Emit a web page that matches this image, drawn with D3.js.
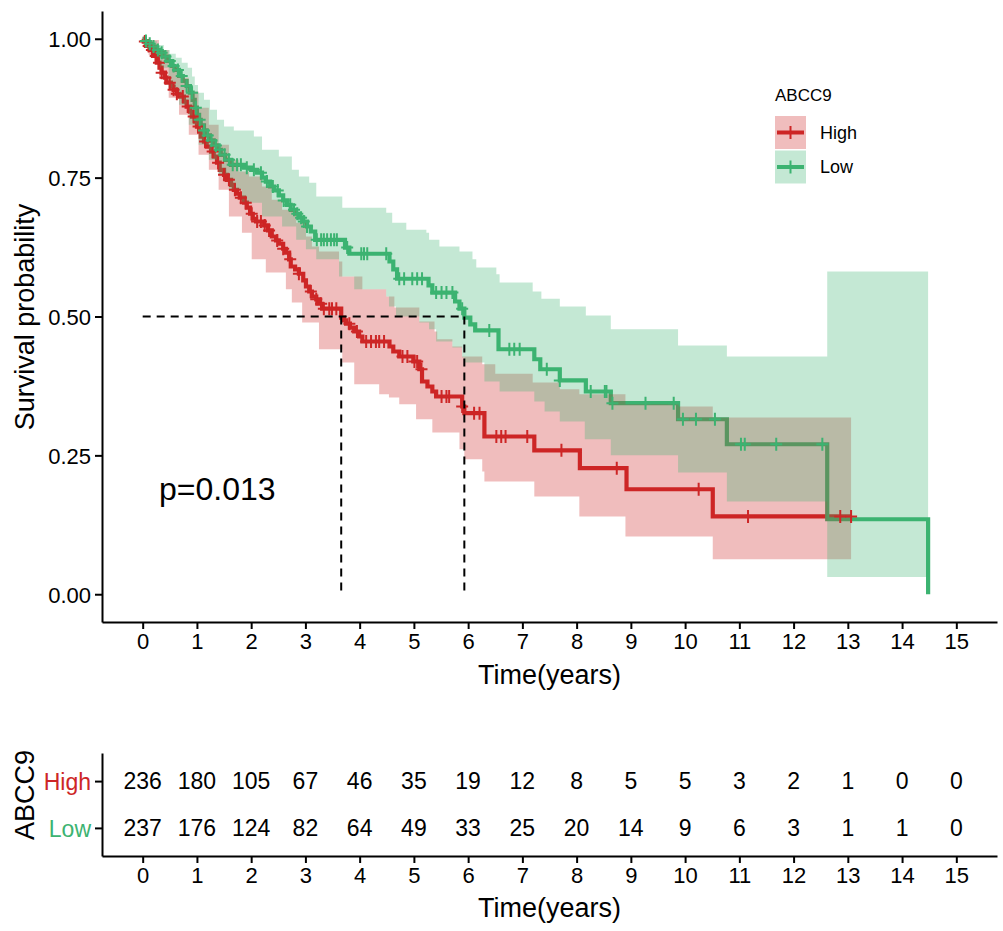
<!DOCTYPE html>
<html><head><meta charset="utf-8">
<script src="https://cdn.jsdelivr.net/npm/d3@7"></script>
<style>
body{margin:0;background:#fff}
svg text{font-family:"Liberation Sans",Arial,sans-serif}
</style>
</head><body>
<svg id="c" width="1003" height="931"></svg>
<script>
// ---------------- data ----------------
const groups = ["High", "Low"];
const legendTitle = "ABCC9";
const pValueText = "p=0.013";
const xTicks = [0,1,2,3,4,5,6,7,8,9,10,11,12,13,14,15];
const yTicks = [0, 0.25, 0.5, 0.75, 1.0];
const medians = [3.66, 5.93];
const endHigh = 13.06;
const endLow = 14.48;

// Kaplan-Meier steps [time, survival]
const highSurv = [[0,1.000],[0.02,0.995],[0.07,0.987],[0.13,0.980],[0.19,0.969],[0.26,0.957],[0.31,0.948],[0.35,0.939],[0.41,0.930],[0.44,0.921],[0.52,0.914],[0.57,0.908],[0.63,0.901],[0.68,0.896],[0.76,0.887],[0.81,0.878],[0.87,0.869],[0.91,0.860],[0.96,0.851],[1.00,0.842],[1.04,0.833],[1.07,0.824],[1.13,0.815],[1.18,0.806],[1.26,0.797],[1.31,0.788],[1.37,0.777],[1.42,0.764],[1.50,0.755],[1.55,0.746],[1.63,0.737],[1.68,0.728],[1.74,0.721],[1.79,0.714],[1.87,0.705],[1.92,0.696],[1.98,0.685],[2.03,0.676],[2.09,0.671],[2.24,0.664],[2.31,0.655],[2.38,0.644],[2.46,0.637],[2.51,0.631],[2.59,0.622],[2.64,0.615],[2.70,0.603],[2.73,0.590],[2.81,0.585],[2.88,0.577],[2.96,0.565],[3.01,0.554],[3.07,0.545],[3.12,0.536],[3.20,0.531],[3.25,0.523],[3.31,0.514],[3.66,0.498],[3.71,0.493],[3.75,0.487],[3.82,0.480],[3.90,0.473],[3.99,0.464],[4.05,0.455],[4.55,0.446],[4.62,0.437],[4.73,0.428],[4.99,0.419],[5.10,0.405],[5.15,0.383],[5.25,0.374],[5.34,0.365],[5.41,0.356],[5.89,0.338],[5.93,0.326],[6.30,0.284],[7.22,0.259],[8.06,0.227],[8.92,0.189],[10.51,0.140]];
const lowSurv = [[0,1.000],[0.04,0.996],[0.09,0.991],[0.17,0.986],[0.24,0.980],[0.31,0.975],[0.39,0.968],[0.46,0.960],[0.54,0.951],[0.59,0.944],[0.67,0.933],[0.74,0.924],[0.81,0.915],[0.87,0.903],[0.92,0.890],[0.96,0.876],[1.00,0.863],[1.04,0.854],[1.07,0.844],[1.13,0.835],[1.18,0.826],[1.24,0.817],[1.31,0.808],[1.37,0.800],[1.44,0.791],[1.52,0.782],[1.63,0.773],[1.87,0.768],[2.00,0.764],[2.11,0.759],[2.20,0.750],[2.27,0.743],[2.35,0.734],[2.42,0.727],[2.51,0.718],[2.59,0.709],[2.66,0.701],[2.73,0.692],[2.81,0.685],[2.88,0.678],[2.96,0.671],[3.03,0.662],[3.10,0.653],[3.18,0.638],[3.73,0.624],[3.81,0.613],[4.55,0.599],[4.62,0.585],[4.69,0.568],[5.27,0.556],[5.34,0.543],[5.76,0.527],[5.84,0.514],[5.93,0.498],[6.04,0.486],[6.13,0.475],[6.56,0.441],[7.22,0.423],[7.33,0.405],[7.69,0.385],[8.17,0.365],[8.63,0.344],[9.87,0.315],[10.77,0.270],[12.62,0.135],[14.48,0]];

// confidence band steps [time, value]
const highUpper = [[0,1.000],[0.11,0.998],[0.30,0.980],[0.48,0.953],[0.67,0.930],[0.85,0.905],[1.03,0.876],[1.22,0.845],[1.40,0.809],[1.59,0.782],[1.77,0.761],[1.96,0.752],[2.20,0.734],[2.38,0.710],[2.57,0.692],[2.83,0.669],[3.01,0.644],[3.12,0.626],[3.25,0.617],[3.62,0.599],[3.68,0.572],[4.05,0.549],[4.49,0.536],[4.64,0.516],[5.10,0.491],[5.38,0.473],[5.43,0.459],[5.71,0.446],[5.89,0.428],[6.26,0.414],[6.50,0.397],[7.19,0.381],[7.69,0.369],[8.05,0.360],[8.90,0.342],[9.88,0.338],[10.51,0.318]];
const highLower = [[0,1.000],[0.11,0.971],[0.30,0.930],[0.48,0.894],[0.67,0.863],[0.85,0.827],[1.03,0.791],[1.22,0.764],[1.40,0.728],[1.59,0.680],[1.83,0.651],[2.01,0.603],[2.27,0.579],[2.64,0.549],[2.75,0.525],[2.94,0.489],[3.25,0.441],[3.68,0.417],[3.90,0.378],[4.36,0.360],[4.54,0.354],[4.73,0.342],[5.04,0.315],[5.34,0.291],[5.84,0.261],[5.93,0.243],[6.26,0.221],[6.30,0.203],[7.22,0.176],[8.05,0.140],[8.90,0.104],[10.51,0.063]];
const lowUpper = [[0,1.000],[0.11,0.996],[0.26,0.989],[0.39,0.980],[0.50,0.973],[0.61,0.966],[0.72,0.957],[0.83,0.948],[0.91,0.932],[0.96,0.917],[1.02,0.903],[1.13,0.890],[1.24,0.872],[1.37,0.854],[1.50,0.842],[1.68,0.835],[2.05,0.824],[2.20,0.800],[2.51,0.788],[2.75,0.764],[2.88,0.752],[3.07,0.741],[3.20,0.716],[3.68,0.696],[4.49,0.687],[4.60,0.669],[4.86,0.656],[5.23,0.651],[5.28,0.638],[5.47,0.626],[5.84,0.617],[6.08,0.603],[6.15,0.588],[6.52,0.576],[6.58,0.561],[7.19,0.545],[7.35,0.532],[7.69,0.518],[8.17,0.502],[8.63,0.477],[9.87,0.448],[10.77,0.428],[12.62,0.581]];
const lowLower = [[0,1.000],[0.11,0.980],[0.30,0.948],[0.48,0.912],[0.67,0.881],[0.85,0.845],[1.03,0.809],[1.22,0.782],[1.40,0.755],[1.59,0.728],[1.83,0.705],[2.20,0.680],[2.57,0.662],[2.83,0.638],[3.01,0.621],[3.20,0.603],[3.62,0.572],[3.90,0.549],[4.49,0.536],[4.54,0.518],[4.67,0.500],[5.10,0.489],[5.28,0.477],[5.41,0.455],[5.71,0.444],[5.89,0.426],[5.93,0.417],[6.30,0.383],[6.58,0.365],[7.22,0.347],[7.41,0.329],[7.69,0.311],[8.15,0.279],[8.63,0.250],[9.87,0.219],[10.77,0.167],[12.62,0.031]];

// censoring times
const highCensor = [0.04,0.11,0.17,0.24,0.30,0.35,0.42,0.50,0.57,0.63,0.74,0.83,0.94,1.03,1.15,1.29,1.39,1.50,1.59,1.70,1.81,1.90,2.01,2.11,2.18,2.25,2.33,2.48,2.59,2.72,2.88,3.10,3.20,3.29,3.34,3.44,3.49,3.57,3.81,3.95,4.12,4.21,4.30,4.36,4.45,4.79,4.88,5.01,5.06,5.14,5.51,5.60,5.65,5.89,6.11,6.21,6.52,6.61,6.69,7.09,7.72,8.74,10.25,11.16,12.86,13.06];
const lowCensor = [0.06,0.13,0.20,0.28,0.35,0.42,0.50,0.57,0.65,0.72,0.81,0.91,0.98,1.05,1.13,1.20,1.27,1.35,1.42,1.51,1.59,1.66,1.74,1.81,1.92,2.05,2.18,2.29,2.40,2.49,2.60,2.72,2.79,2.85,2.92,2.97,3.03,3.21,3.29,3.34,3.40,3.47,3.53,3.58,3.77,4.03,4.08,4.14,4.49,4.73,4.82,4.97,5.06,5.15,5.41,5.51,5.60,5.71,5.89,6.39,6.76,6.85,6.95,7.45,7.69,8.26,8.52,8.55,8.66,9.27,9.79,9.96,10.20,10.55,11.03,11.10,11.68,12.53];

// number at risk
const riskTimes = [0,1,2,3,4,5,6,7,8,9,10,11,12,13,14,15];
const highRisk = [236,180,105,67,46,35,19,12,8,5,5,3,2,1,0,0];
const lowRisk = [237,176,124,82,64,49,33,25,20,14,9,6,3,1,1,0];

// ---------------- drawing ----------------
const colors = {High: "#CD2626", Low: "#3CB371"};
const svg = d3.select("#c");
const font = '"Liberation Sans",Arial,sans-serif';

const x = d3.scaleLinear().domain([-0.75, 15.75]).range([102, 997]);
const y = d3.scaleLinear().domain([-0.05, 1.05]).range([622, 11]);

function stepAt(arr, t) {
  let v = arr[0][1];
  for (const [tt, vv] of arr) { if (tt <= t + 1e-9) v = vv; else break; }
  return v;
}

const series = [
  {name: "High", surv: highSurv, up: highUpper, lo: highLower, cens: highCensor, end: endHigh},
  {name: "Low", surv: lowSurv, up: lowUpper, lo: lowLower, cens: lowCensor, end: endLow}
];

const plot = svg.append("g");

// step lines
const line = d3.line().x(d => x(d[0])).y(d => y(d[1])).curve(d3.curveStepAfter);
series.forEach(s => {
  const pts = s.surv.concat([[s.end, s.surv[s.surv.length - 1][1]]]);
  plot.append("path").attr("d", line(pts)).attr("fill", "none")
    .attr("stroke", colors[s.name]).attr("stroke-width", 4.2);
});

// confidence ribbons
const area = d3.area().x(d => x(d.t)).y0(d => y(d.lo)).y1(d => y(d.hi)).curve(d3.curveStepAfter);
series.forEach(s => {
  const times = Array.from(new Set(s.up.map(d => d[0]).concat(s.lo.map(d => d[0])))).sort((a, b) => a - b);
  const pts = times.map(t => ({t: t, lo: stepAt(s.lo, t), hi: stepAt(s.up, t)}));
  const last = pts[pts.length - 1];
  pts.push({t: s.end, lo: last.lo, hi: last.hi});
  plot.append("path").attr("d", area(pts)).attr("fill", colors[s.name]).attr("fill-opacity", 0.3);
});

// censor marks
series.forEach(s => {
  plot.selectAll(null).data(s.cens).enter().append("path")
    .attr("transform", t => `translate(${x(t)},${y(stepAt(s.surv, t))})`)
    .attr("d", "M-6,0H6M0,-6.5V6.5")
    .attr("stroke", colors[s.name]).attr("stroke-width", 2).attr("fill", "none");
});

// median lines
const dash = "8,6";
plot.append("line").attr("x1", x(0)).attr("x2", x(d3.max(medians))).attr("y1", y(0.5)).attr("y2", y(0.5))
  .attr("stroke", "#000").attr("stroke-width", 2).attr("stroke-dasharray", dash);
medians.forEach(m => {
  plot.append("line").attr("x1", x(m)).attr("x2", x(m)).attr("y1", y(0.5)).attr("y2", y(0))
    .attr("stroke", "#000").attr("stroke-width", 2).attr("stroke-dasharray", dash);
});

// p value
svg.append("text").attr("x", 159).attr("y", 500).attr("font-size", 32).style("fill", "#000").text(pValueText);

// axes (main)
function styleAxis(g, fs) {
  g.select(".domain").attr("stroke", "#000").attr("stroke-width", 2);
  g.selectAll(".tick line").attr("stroke", "#000").attr("stroke-width", 2);
  g.selectAll(".tick text").attr("font-size", fs).attr("font-family", font).style("fill", "#000");
}
const xAxisG = svg.append("g").attr("transform", "translate(0,622)")
  .call(d3.axisBottom(x).tickValues(xTicks).tickSize(7).tickSizeOuter(0).tickPadding(4).tickFormat(d3.format("d")));
styleAxis(xAxisG, 22);
const yAxisG = svg.append("g").attr("transform", "translate(102,0)")
  .call(d3.axisLeft(y).tickValues(yTicks).tickSize(7).tickSizeOuter(0).tickPadding(4).tickFormat(d3.format(".2f")));
styleAxis(yAxisG, 22);
yAxisG.selectAll(".tick text").attr("dy", "0.36em");

svg.append("text").attr("x", 549.5).attr("y", 684).attr("text-anchor", "middle").attr("font-size", 27).style("fill", "#000").text("Time(years)");
svg.append("text").attr("transform", "translate(34,317) rotate(-90)").attr("text-anchor", "middle").attr("font-size", 27).style("fill", "#000").text("Survival probability");

// legend
const leg = svg.append("g");
leg.append("text").attr("x", 775).attr("y", 101).attr("font-size", 17).style("fill", "#000").text(legendTitle);
groups.forEach((gname, i) => {
  const y0 = 116 + i * 34.5;
  leg.append("rect").attr("x", 775).attr("y", y0).attr("width", 31).attr("height", 33)
    .attr("fill", colors[gname]).attr("fill-opacity", 0.3);
  leg.append("line").attr("x1", 777).attr("x2", 804).attr("y1", y0 + 16.5).attr("y2", y0 + 16.5)
    .attr("stroke", colors[gname]).attr("stroke-width", 4);
  leg.append("path").attr("transform", `translate(790.5,${y0 + 16.5})`).attr("d", "M-6,0H6M0,-6.5V6.5")
    .attr("stroke", colors[gname]).attr("stroke-width", 2);
  leg.append("text").attr("x", 820).attr("y", y0 + 16.5).attr("dy", "0.36em").attr("font-size", 18).style("fill", "#000").text(gname);
});

// ---------------- risk table ----------------
const yr = d3.scalePoint().domain(groups).range([753, 856]).padding(0.6);
const riskG = svg.append("g");
[["High", highRisk], ["Low", lowRisk]].forEach(([gname, vals]) => {
  riskG.selectAll(null).data(riskTimes).enter().append("text")
    .attr("x", t => x(t)).attr("y", yr(gname)).attr("dy", "0.36em")
    .attr("text-anchor", "middle").attr("font-size", 23).style("fill", "#000")
    .text((t, i) => vals[i]);
});
const rxAxis = svg.append("g").attr("transform", "translate(0,856)")
  .call(d3.axisBottom(x).tickValues(xTicks).tickSize(7).tickSizeOuter(0).tickPadding(4).tickFormat(d3.format("d")));
styleAxis(rxAxis, 22);
const ryAxis = svg.append("g").attr("transform", "translate(102,0)")
  .call(d3.axisLeft(yr).tickSize(7).tickSizeOuter(0).tickPadding(4));
styleAxis(ryAxis, 23);
ryAxis.selectAll(".tick text").style("fill", d => colors[d]).attr("dy", "0.36em");
svg.append("text").attr("x", 549.5).attr("y", 917).attr("text-anchor", "middle").attr("font-size", 27).style("fill", "#000").text("Time(years)");
svg.append("text").attr("transform", "translate(34,795) rotate(-90)").attr("text-anchor", "middle").attr("font-size", 27).style("fill", "#000").text(legendTitle);
</script>
</body></html>
